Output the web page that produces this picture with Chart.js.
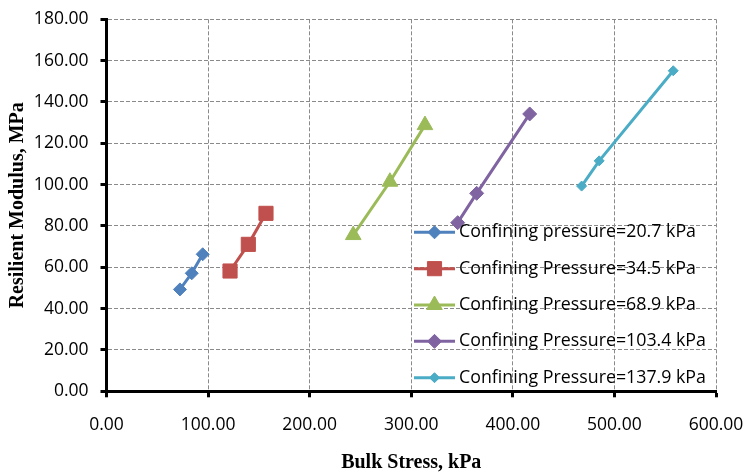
<!DOCTYPE html>
<html>
<head>
<meta charset="utf-8">
<script src="https://cdn.jsdelivr.net/npm/chart.js@4/dist/chart.umd.min.js"></script>
<style>
  html, body { margin: 0; padding: 0; background: #ffffff; }
  #wrap { width: 752px; height: 475px; }
</style>
</head>
<body>
<div id="wrap"><canvas id="c" width="752" height="475"></canvas></div>
<script>
// ---- Data ----
const seriesLabels = [
  "Confining pressure=20.7 kPa",
  "Confining Pressure=34.5 kPa",
  "Confining Pressure=68.9 kPa",
  "Confining Pressure=103.4 kPa",
  "Confining Pressure=137.9 kPa"
];
const bulk207  = [72.3, 83.9, 94.7];
const mr207    = [49.3, 57.1, 66.3];
const bulk345  = [121.6, 139.6, 157.0];
const mr345    = [58.2, 71.1, 86.1];
const bulk689  = [242.9, 279.0, 313.5];
const mr689    = [75.6, 101.4, 128.8];
const bulk1034 = [345.7, 364.4, 416.6];
const mr1034   = [81.6, 95.8, 134.2];
const bulk1379 = [467.7, 485.0, 557.9];
const mr1379   = [99.3, 111.5, 155.1];
const xTitle = "Bulk Stress, kPa";
const yTitle = "Resilient Modulus, MPa";
const xMin = 0, xMax = 600, xStep = 100;
const yMin = 0, yMax = 180, yStep = 20;

// ---- Styles ----
const colors  = ["#4F81BD", "#C0504D", "#9BBB59", "#8064A2", "#4BACC6"];
const markers = ["rectRot", "rect", "triangle", "rectRot", "rectRot"];
const radii   = [6.5, 10, 9, 7, 5];

function pts(xs, ys) { return xs.map((x, i) => ({ x: x, y: ys[i] })); }
const seriesData = [
  pts(bulk207, mr207),
  pts(bulk345, mr345),
  pts(bulk689, mr689),
  pts(bulk1034, mr1034),
  pts(bulk1379, mr1379)
];

const datasets = seriesData.map((d, i) => ({
  label: seriesLabels[i],
  data: d,
  showLine: true,
  borderColor: colors[i],
  backgroundColor: colors[i],
  borderWidth: 3,
  pointStyle: markers[i],
  pointRadius: radii[i],
  pointHoverRadius: radii[i],
  pointBackgroundColor: colors[i],
  pointBorderColor: colors[i],
  pointBorderWidth: 1,
  tension: 0
}));

const TICK_FONT = { family: "'Open Sans', sans-serif", size: 17.5 };
const LEGEND_FONT_SIZE = 17.8;
const TITLE_FONT = { family: "'Liberation Serif', 'Times New Roman', serif", size: 20, weight: 'bold', lineHeight: 1.2 };

// Legend drawn inside the plot area, Excel style (line + marker + text)
const insideLegend = {
  id: 'insideLegend',
  afterDatasetsDraw(chart) {
    const ctx = chart.ctx;
    const x0 = 414, x1 = 455, tx = 459, y0 = 232.3, dy = 36.35;
    chart.data.datasets.forEach((ds, i) => {
      const y = y0 + i * dy;
      ctx.save();
      ctx.strokeStyle = ds.borderColor;
      ctx.lineWidth = 3;
      ctx.beginPath();
      ctx.moveTo(x0, y);
      ctx.lineTo(x1, y);
      ctx.stroke();
      ctx.fillStyle = ds.pointBackgroundColor;
      ctx.strokeStyle = ds.pointBorderColor;
      ctx.lineWidth = 1;
      Chart.helpers.drawPoint(ctx, { pointStyle: ds.pointStyle, radius: ds.pointRadius, rotation: 0, borderWidth: 1 }, (x0 + x1) / 2, y);
      ctx.fillStyle = '#000000';
      ctx.font = LEGEND_FONT_SIZE + "px " + TICK_FONT.family;
      ctx.textAlign = 'left';
      ctx.textBaseline = 'middle';
      ctx.fillText(ds.label, tx, y);
      ctx.restore();
    });
  }
};

const whiteBg = {
  id: 'whiteBg',
  beforeDraw(chart) {
    const ctx = chart.ctx;
    ctx.save();
    ctx.fillStyle = '#ffffff';
    ctx.fillRect(0, 0, chart.width, chart.height);
    ctx.restore();
  }
};

new Chart(document.getElementById('c'), {
  type: 'scatter',
  data: { datasets: datasets },
  plugins: [whiteBg, insideLegend],
  options: {
    responsive: false,
    animation: false,
    layout: { padding: { left: 0, right: 36, top: 19.3, bottom: 0 } },
    plugins: {
      legend: { display: false },
      tooltip: { enabled: false }
    },
    scales: {
      x: {
        type: 'linear',
        min: xMin, max: xMax,
        afterFit(scale) { scale.height = 83.7; scale.paddingLeft = 0; scale.paddingRight = 0; },
        ticks: {
          stepSize: xStep,
          color: '#000000',
          font: TICK_FONT,
          padding: 17,
          callback: v => Number(v).toFixed(2)
        },
        grid: {
          color: '#8a8a8a',
          lineWidth: 1,
          tickColor: '#000000',
          tickWidth: 3,
          tickLength: 6,
          tickBorderDash: []
        },
        border: { display: true, color: '#000000', width: 3, dash: [4, 2] },
        title: {
          display: true,
          text: xTitle,
          color: '#000000',
          font: TITLE_FONT,
          padding: { top: 0, bottom: 0 }
        }
      },
      y: {
        type: 'linear',
        min: yMin, max: yMax,
        afterFit(scale) { scale.width = 106.5; scale.paddingTop = 0; scale.paddingBottom = 0; },
        ticks: {
          stepSize: yStep,
          color: '#000000',
          font: TICK_FONT,
          padding: 12,
          callback: v => Number(v).toFixed(2)
        },
        grid: {
          color: '#8a8a8a',
          lineWidth: 1,
          tickColor: '#000000',
          tickWidth: 3,
          tickLength: 6,
          tickBorderDash: []
        },
        border: { display: true, color: '#000000', width: 3, dash: [4, 2] },
        title: {
          display: true,
          text: yTitle,
          color: '#000000',
          font: TITLE_FONT,
          padding: { top: 5.5, bottom: 0 }
        }
      }
    }
  }
});
</script>
</body>
</html>
